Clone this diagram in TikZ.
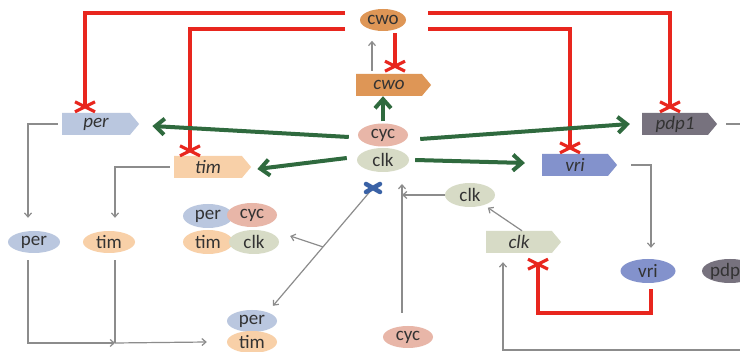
\documentclass[tikz,border=0pt]{standalone}
\usepackage{fontspec}
\setmainfont{Carlito}
\usetikzlibrary{shapes.geometric,shapes.symbols,arrows.meta,calc}
\definecolor{cwoorange}{HTML}{DE9656}
\definecolor{cycpink}{HTML}{E8B6A8}
\definecolor{clkgrey}{HTML}{D7DBC6}
\definecolor{perblue}{HTML}{BAC7DF}
\definecolor{timpeach}{HTML}{F8D0A8}
\definecolor{vriblue}{HTML}{8392CC}
\definecolor{pdpgrey}{HTML}{77727E}
\definecolor{inhred}{HTML}{E8261E}
\definecolor{actgreen}{HTML}{2F6A3E}
\definecolor{flowgrey}{HTML}{8C8C8C}
\definecolor{txtgrey}{HTML}{333333}
\definecolor{crossblue}{HTML}{3A62A6}
\tikzset{
	prot/.style={ellipse, inner sep=0pt, minimum width=50pt, minimum height=23pt,
		font=\fontsize{19}{21}\selectfont, text=txtgrey},
	gene/.style={signal, signal to=east, signal pointer angle=100, inner sep=0pt,
		minimum width=75pt, minimum height=22pt,
		font=\fontsize{19}{21}\selectfont\itshape, text=txtgrey},
	inh/.style={line width=3.5pt, color=inhred},
	act/.style={line width=4pt, color=actgreen, -{Straight Barb[length=9pt,width=16pt]}},
	flow/.style={line width=1.2pt, color=flowgrey, -{Straight Barb[length=4pt,width=7pt]}},
	redx/.pic={\draw[inhred, line width=3.2pt] (-10,-5)--(10,5) (-10,5)--(10,-5);},
}
\begin{document}
\begin{tikzpicture}[x=1pt,y=-1pt]
	\useasboundingbox (0,0) rectangle (740,352);
	\clip (0,0) rectangle (740,352);
	\fill[white] (0,0) rectangle (740,352);
	\path
	coordinate (aux1) at (345,13)
	coordinate (aux2) at (345,29)
	coordinate (aux3) at (428,13)
	coordinate (aux4) at (428,29)
	coordinate (aux5) at (538,313)
	coordinate (join) at (115,343)
	coordinate (bluex) at (373,188)
	coordinate (cycup) at (402,184)
	coordinate (edge) at (750,350)
	;
	% proteins and genes
	\node[prot, fill=cwoorange, minimum width=46pt, minimum height=22pt] (cwoP) at (383,20) {cwo};
	\node[gene, fill=cwoorange] (cwoG) at (389,85) {cwo};
	\node[prot, fill=cycpink] (cycA) at (383,135) {cyc};
	\node[prot, fill=clkgrey, minimum width=52pt, minimum height=24pt] (clkA) at (383,160) {clk};
	\node[gene, fill=perblue, minimum width=77pt] (perG) at (96,124) {per};
	\node[gene, fill=timpeach, minimum width=77pt] (timG) at (208,167) {tim};
	\node[gene, fill=vriblue] (vriG) at (575,165) {vri};
	\node[gene, fill=pdpgrey] (pdpG) at (675,124) {pdp1};
	\node[gene, fill=clkgrey] (clkG) at (519,242) {clk};
	\node[prot, fill=clkgrey, minimum height=24pt] (clkB) at (470,195) {clk};
	\node[prot, fill=vriblue, minimum width=55pt, minimum height=24pt] (vriP) at (648,271) {vri};
	\node[prot, fill=pdpgrey, minimum width=55pt, minimum height=24pt] (pdpP) at (730,271) {pdp1};
	\node[prot, fill=cycpink, minimum height=22pt] (cycB) at (408,337) {cyc};
	\node[prot, fill=perblue, minimum width=52pt, minimum height=22pt] (perL) at (34,242) {per};
	\node[prot, fill=timpeach, minimum width=52pt, minimum height=22pt] (timL) at (109,242) {tim};
	\node[prot, fill=perblue, minimum height=22pt] (perC) at (252,321) {per};
	\node[prot, fill=timpeach, minimum height=22pt] (timC) at (252,342) {tim};
	% complex
	\node[prot, fill=perblue, minimum height=24pt] (perX) at (208,216) {per};
	\node[prot, fill=cycpink, minimum height=24pt] (cycX) at (252,215) {cyc};
	\node[prot, fill=timpeach, minimum height=24pt] (timX) at (208,242) {tim};
	\node[prot, fill=clkgrey, minimum height=24pt] (clkX) at (254,242) {clk};
	% repression by cwo and vri
	\draw[inh] (aux1) -| ([xshift=-11pt,yshift=6pt]perG.north) pic{redx};
	\draw[inh] (aux2) -| ([xshift=-18pt,yshift=5pt]timG.north) pic{redx};
	\draw[inh] (aux3) -| ([xshift=-5pt,yshift=6pt]pdpG.north) pic{redx};
	\draw[inh] (aux4) -| ([xshift=-5pt,yshift=6pt]vriG.north) pic{redx};
	\draw[inh] ([xshift=12pt,yshift=-2pt]cwoP.south) -- ++(0,33) pic{redx};
	\draw[inh] ([xshift=3pt,yshift=-6pt]vriP.south) |- (aux5) -- ([xshift=19pt,yshift=-11pt]clkG.south) pic{redx};
	% activation by clk/cyc
	\draw[act] ([yshift=2pt]cycA.north) -- (cycA.north |- cwoG.south);
	\draw[act] ([xshift=-9pt,yshift=-2pt]cycA.west) -- ([xshift=13pt,yshift=-2pt]perG.east);
	\draw[act] ([xshift=-10pt,yshift=2pt]clkA.west) -- ([xshift=6pt,yshift=-2pt]timG.east);
	\draw[act] ([xshift=12pt,yshift=-4pt]cycA.east) -- ([xshift=-12pt]pdpG.west);
	\draw[act] ([xshift=6pt]clkA.east) -- ([xshift=-17pt,yshift=2pt]vriG.west);
	% translation and transport
	\draw[flow] ([xshift=-17pt,yshift=3pt]cwoG.north) -- ++(0,-30);
	\draw[flow] ([xshift=-4pt]perG.west) -| ([xshift=-6pt,yshift=13pt]perL.north);
	\draw[flow] ([xshift=-4pt]timG.west) -| ([xshift=6pt,yshift=13pt]timL.north);
	\draw[flow] ([xshift=-6pt,yshift=-7pt]perL.south) |- (join);
	\draw[flowgrey, line width=1.2pt] ([xshift=6pt,yshift=-7pt]timL.south) -- (join);
	\draw[flow] (join) -- ([xshift=-20pt]timC.west);
	\draw[flow] (bluex) -- ([xshift=21pt,yshift=4pt]perC.north);
	\draw[flow] ($(bluex)!0.5!([xshift=21pt,yshift=4pt]perC.north)$) -- ([xshift=11pt,yshift=6pt]clkX.east);
	\draw[crossblue, line width=4.5pt, line cap=round] ([shift={(-7,-4)}]bluex) -- ([shift={(7,4)}]bluex)
		([shift={(-7,4)}]bluex) -- ([shift={(7,-4)}]bluex);
	\draw[flow] ([xshift=-6pt,yshift=13pt]cycB.north) -- (cycup);
	\draw[flow] (clkB.west) -- (clkB.west -| cycup);
	\draw[flow] ([xshift=3pt]clkG.north) -- ([yshift=-4pt]clkB.south east);
	\draw[flow] ([xshift=14pt]vriG.east) -| ([xshift=3pt,yshift=11pt]vriP.north);
	\draw[flowgrey, line width=1.2pt] ([xshift=9pt]pdpG.east) -- ++(30,0);
	\draw[flow] (edge) -| ([xshift=-16pt,yshift=-9pt]clkG.south);
\end{tikzpicture}
\end{document}
